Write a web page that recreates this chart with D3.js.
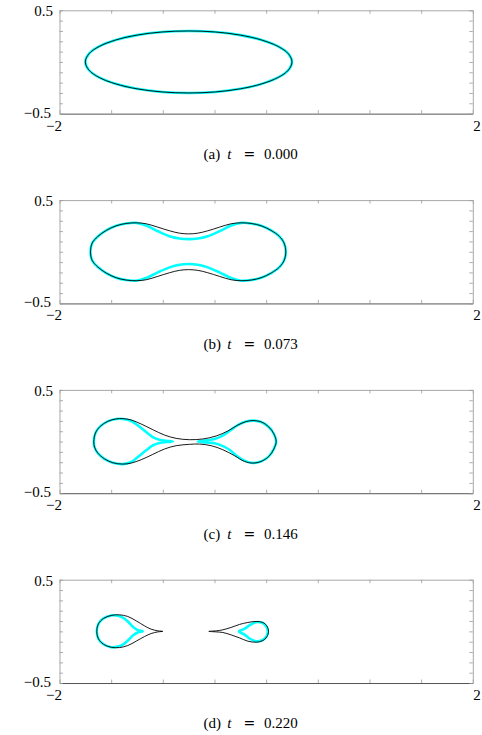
<!DOCTYPE html>
<html>
<head>
<meta charset="utf-8">
<script src="https://cdn.jsdelivr.net/npm/d3@7"></script>
<style>
  html, body { margin: 0; padding: 0; background: #fff; }
  text { font-family: "Liberation Serif", "DejaVu Serif", serif; fill: #000; }
</style>
</head>
<body>
<svg id="chart" width="482" height="735"></svg>
<script>
// ---- axis data ----
const xTicks = [-2, -1.5, -1, -0.5, 0, 0.5, 1, 1.5, 2];
const yTicks = [-0.5, -0.4, -0.3, -0.2, -0.1, 0, 0.1, 0.2, 0.3, 0.4, 0.5];
const xDomain = [-2, 2];
const yDomain = [-0.5, 0.5];
const panelLetters = ["(a)", "(b)", "(c)", "(d)"];
const panelTimes = ["0.000", "0.073", "0.146", "0.220"];

// ---- curves (closed outlines, data coordinates) ----
const blackA = [[
  [0.25,0],[0.216,0.078],[0.116,0.15],[-0.043,0.212],[-0.25,0.26],[-0.491,0.29],[-0.75,0.3],
  [-1.009,0.29],[-1.25,0.26],[-1.457,0.212],[-1.616,0.15],[-1.716,0.078],[-1.75,0],
  [-1.716,-0.078],[-1.616,-0.15],[-1.457,-0.212],[-1.25,-0.26],[-1.009,-0.29],[-0.75,-0.3],
  [-0.491,-0.29],[-0.25,-0.26],[-0.043,-0.212],[0.116,-0.15],[0.216,-0.078]
]];
const cyanA = [[
  [0.25,0],[0.216,0.078],[0.116,0.15],[-0.043,0.212],[-0.25,0.26],[-0.491,0.29],[-0.75,0.3],
  [-1.009,0.29],[-1.25,0.26],[-1.457,0.212],[-1.616,0.15],[-1.716,0.078],[-1.75,0],
  [-1.716,-0.078],[-1.616,-0.15],[-1.457,-0.212],[-1.25,-0.26],[-1.009,-0.29],[-0.75,-0.3],
  [-0.491,-0.29],[-0.25,-0.26],[-0.043,-0.212],[0.116,-0.15],[0.216,-0.078]
]];

const blackB = [[
  [-1.70,0],[-1.684,0.083],[-1.629,0.148],[-1.548,0.206],[-1.452,0.251],[-1.355,0.274],[-1.258,0.28],
  [-1.161,0.271],[-1.048,0.238],[-0.935,0.203],[-0.839,0.18],[-0.75,0.173],[-0.661,0.18],[-0.565,0.203],
  [-0.452,0.238],[-0.339,0.271],[-0.242,0.28],[-0.145,0.274],[-0.048,0.251],[0.048,0.206],[0.129,0.148],
  [0.174,0.083],[0.19,0],
  [0.174,-0.083],[0.129,-0.148],[0.048,-0.206],[-0.048,-0.251],[-0.145,-0.274],[-0.242,-0.28],
  [-0.339,-0.271],[-0.452,-0.238],[-0.565,-0.203],[-0.661,-0.18],[-0.75,-0.173],[-0.839,-0.18],
  [-0.935,-0.203],[-1.048,-0.238],[-1.161,-0.271],[-1.258,-0.28],[-1.355,-0.274],[-1.452,-0.251],
  [-1.548,-0.206],[-1.629,-0.148],[-1.684,-0.083]
]];
const cyanB = [[
  [-1.70,0],[-1.684,0.083],[-1.629,0.148],[-1.548,0.206],[-1.452,0.251],[-1.355,0.274],[-1.258,0.28],
  [-1.161,0.254],[-1.048,0.199],[-0.935,0.151],[-0.839,0.128],[-0.75,0.122],[-0.661,0.128],[-0.565,0.151],
  [-0.452,0.199],[-0.339,0.254],[-0.242,0.28],[-0.145,0.274],[-0.048,0.251],[0.048,0.206],[0.129,0.148],
  [0.174,0.083],[0.19,0],
  [0.174,-0.083],[0.129,-0.148],[0.048,-0.206],[-0.048,-0.251],[-0.145,-0.274],[-0.242,-0.28],
  [-0.339,-0.254],[-0.452,-0.199],[-0.565,-0.151],[-0.661,-0.125],[-0.75,-0.118],[-0.839,-0.125],
  [-0.935,-0.151],[-1.048,-0.199],[-1.161,-0.254],[-1.258,-0.28],[-1.355,-0.274],[-1.452,-0.251],
  [-1.548,-0.206],[-1.629,-0.148],[-1.684,-0.083]
]];

const blackC = [[
  [-1.668,0],[-1.652,0.083],[-1.606,0.147],[-1.532,0.196],[-1.452,0.219],[-1.387,0.222],[-1.306,0.209],
  [-1.21,0.17],[-1.097,0.115],[-0.984,0.063],[-0.871,0.031],[-0.742,0.018],[-0.613,0.025],[-0.484,0.054],
  [-0.371,0.102],[-0.274,0.16],[-0.194,0.193],[-0.129,0.203],[-0.048,0.19],[0.026,0.141],[0.074,0.076],
  [0.097,0],
  [0.074,-0.073],[0.026,-0.144],[-0.048,-0.192],[-0.129,-0.208],[-0.21,-0.192],[-0.306,-0.137],
  [-0.419,-0.079],[-0.532,-0.04],[-0.645,-0.024],[-0.742,-0.027],[-0.871,-0.04],[-0.984,-0.072],
  [-1.097,-0.124],[-1.21,-0.176],[-1.306,-0.208],[-1.387,-0.218],[-1.484,-0.205],[-1.565,-0.167],
  [-1.629,-0.112],[-1.661,-0.053]
]];
const cyanC = [
  [
    [-0.903,0],[-0.968,0.008],[-1.032,0.018],[-1.097,0.044],[-1.161,0.093],[-1.242,0.157],[-1.306,0.199],
    [-1.387,0.219],[-1.452,0.219],[-1.532,0.196],[-1.606,0.147],[-1.652,0.083],[-1.668,0],
    [-1.661,-0.053],[-1.629,-0.112],[-1.565,-0.167],[-1.484,-0.205],[-1.387,-0.218],[-1.306,-0.198],
    [-1.242,-0.15],[-1.161,-0.085],[-1.097,-0.037],[-1.032,-0.014],[-0.968,-0.005]
  ],
  [
    [-0.661,0],[-0.581,0.012],[-0.5,0.025],[-0.435,0.05],[-0.355,0.102],[-0.274,0.16],[-0.194,0.193],
    [-0.129,0.203],[-0.048,0.19],[0.026,0.141],[0.074,0.076],[0.097,0],[0.074,-0.073],[0.026,-0.144],
    [-0.048,-0.192],[-0.129,-0.208],[-0.21,-0.185],[-0.29,-0.135],[-0.355,-0.079],[-0.435,-0.037],
    [-0.5,-0.017],[-0.581,-0.008]
  ]
];

const blackD = [
  [
    [-1.0,0],[-1.048,0.005],[-1.113,0.021],[-1.177,0.053],[-1.258,0.102],[-1.339,0.144],[-1.419,0.16],
    [-1.5,0.154],[-1.574,0.125],[-1.623,0.073],[-1.639,0],[-1.623,-0.072],[-1.574,-0.125],[-1.5,-0.154],
    [-1.419,-0.157],[-1.339,-0.137],[-1.258,-0.095],[-1.177,-0.05],[-1.113,-0.021],[-1.048,-0.005]
  ],
  [
    [-0.555,0],[-0.484,0.005],[-0.419,0.015],[-0.339,0.038],[-0.258,0.067],[-0.177,0.086],[-0.097,0.096],
    [-0.032,0.086],[0.006,0.054],[0.023,0],[0.006,-0.054],[-0.032,-0.089],[-0.097,-0.105],[-0.177,-0.095],
    [-0.258,-0.063],[-0.339,-0.034],[-0.419,-0.011],[-0.484,-0.005]
  ]
];
const cyanD = [
  [
    [-1.194,0],[-1.242,0.012],[-1.29,0.044],[-1.339,0.096],[-1.387,0.134],[-1.435,0.151],[-1.5,0.154],
    [-1.574,0.125],[-1.623,0.073],[-1.639,0],[-1.623,-0.072],[-1.574,-0.125],[-1.5,-0.154],
    [-1.435,-0.147],[-1.387,-0.128],[-1.339,-0.089],[-1.29,-0.04],[-1.242,-0.011]
  ],
  [
    [-0.265,0],[-0.21,0.024],[-0.155,0.063],[-0.097,0.089],[-0.039,0.083],[0.0,0.05],[0.016,0],
    [0.0,-0.054],[-0.039,-0.086],[-0.097,-0.096],[-0.155,-0.073],[-0.21,-0.031]
  ]
];

const blackSeries = [blackA, blackB, blackC, blackD];
const cyanSeries = [cyanA, cyanB, cyanC, cyanD];

// ---- layout ----
const left = 59.5, right = 472.8;
const plotH = (right - left) / 4;
const firstTop = 10.3, step = 189.8;

const svg = d3.select("#chart");
const x = d3.scaleLinear().domain(xDomain).range([left, right]);

panelLetters.forEach((letter, i) => {
  const top = firstTop + i * step;
  const bottom = top + plotH;
  const y = d3.scaleLinear().domain(yDomain).range([bottom, top]);
  const g = svg.append("g");

  // axes (ticks pointing inside)
  const styleAxis = (sel, domainColor) => {
    sel.selectAll(".tick text").remove();
    sel.selectAll(".tick line").attr("stroke", "#9a9a9a").attr("stroke-width", 0.8);
    sel.select(".domain").attr("stroke", domainColor).attr("stroke-width", 1);
  };
  g.append("g").attr("transform", `translate(0,${top})`)
    .call(d3.axisTop(x).tickValues(xTicks).tickSizeInner(-3.5).tickSizeOuter(0))
    .call(s => styleAxis(s, "#a8a8a8"));
  g.append("g").attr("transform", `translate(0,${bottom})`)
    .call(d3.axisBottom(x).tickValues(xTicks).tickSizeInner(-3.5).tickSizeOuter(0))
    .call(s => styleAxis(s, "#555"));
  g.append("g").attr("transform", `translate(${left},0)`)
    .call(d3.axisLeft(y).tickValues(yTicks).tickSizeInner(-3.5).tickSizeOuter(0))
    .call(s => styleAxis(s, "#a8a8a8"));
  g.append("g").attr("transform", `translate(${right},0)`)
    .call(d3.axisRight(y).tickValues(yTicks).tickSizeInner(-3.5).tickSizeOuter(0))
    .call(s => styleAxis(s, "#a8a8a8"));

  // tick labels at extremes
  const fs = 15;
  g.append("text").attr("x", left - 6.5).attr("y", y(yDomain[1]) + 5.8)
    .attr("text-anchor", "end").attr("font-size", fs).text("0.5");
  g.append("text").attr("x", left - 8.5).attr("y", y(yDomain[0]) + 4)
    .attr("text-anchor", "end").attr("font-size", fs).text("\u22120.5");
  g.append("text").attr("x", x(xDomain[0]) + 2.5).attr("y", bottom + 17)
    .attr("text-anchor", "end").attr("font-size", fs).text("\u22122");
  g.append("text").attr("x", x(xDomain[1]) + 0.5).attr("y", bottom + 17)
    .attr("text-anchor", "start").attr("font-size", fs).text("2");

  // curves
  const line = d3.line().x(d => x(d[0])).y(d => y(d[1]))
    .curve(d3.curveCatmullRomClosed.alpha(0.5));
  g.selectAll("path.cyan").data(cyanSeries[i]).join("path")
    .attr("class", "cyan").attr("d", line)
    .attr("fill", "none").attr("stroke", "#00ffff").attr("stroke-width", 2.6)
    .attr("stroke-linejoin", "round");
  g.selectAll("path.black").data(blackSeries[i]).join("path")
    .attr("class", "black").attr("d", line)
    .attr("fill", "none").attr("stroke", "#000").attr("stroke-width", 0.9)
    .attr("stroke-linejoin", "round");

  // caption: "(x)  t = value"
  const cy = top + 148.7;
  const cap = g.append("text").attr("y", cy).attr("font-size", fs);
  cap.append("tspan").attr("x", 203.5).text(letter);
  cap.append("tspan").attr("x", 227.3).attr("font-style", "italic").text("t");
  cap.append("tspan").attr("x", 243.5).attr("font-family", "DejaVu Serif")
    .attr("font-size", 14).text("=");
  cap.append("tspan").attr("x", 264).text(panelTimes[i]);
});
</script>
</body>
</html>
